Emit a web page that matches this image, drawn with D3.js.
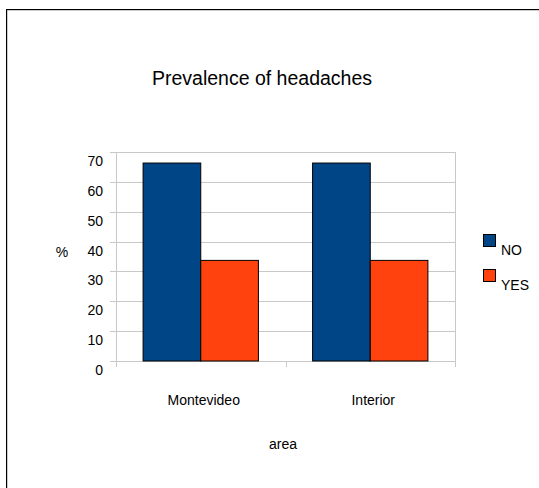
<!DOCTYPE html>
<html><head><meta charset="utf-8">
<script src="https://cdn.jsdelivr.net/npm/d3@7"></script>
<style>body{margin:0;background:#fff;}svg{display:block;font-family:"Liberation Sans",Arial,sans-serif;}</style>
</head><body><svg id="c" width="539" height="488"></svg>
<script>
const categories = ["Montevideo", "Interior"];
const seriesNames = ["NO", "YES"];
const noValues = [66.3, 66.3];
const yesValues = [33.7, 33.7];
const yTicks = [0, 10, 20, 30, 40, 50, 60, 70];
const colors = ["#004586", "#ff420e"];

const svg = d3.select("#c");
// outer frame
svg.append("rect").attr("x", 7).attr("y", 10).attr("width", 600).attr("height", 600)
  .attr("fill", "none").attr("stroke", "#999").attr("stroke-width", 1);
svg.append("rect").attr("x", 6.5).attr("y", 9.5).attr("width", 600).attr("height", 600)
  .attr("fill", "none").attr("stroke", "#000").attr("stroke-width", 1);

const L = 116, R = 455, T = 152, B = 361;
const x = d3.scaleBand().domain(categories).range([L, R]);
const y = d3.scaleLinear().domain([0, 70]).range([B, T]);
const inner = d3.scaleBand().domain(seriesNames).range([0, x.bandwidth()]).paddingOuter(0.47).paddingInner(0);

// gridlines
svg.append("g").selectAll("line").data(yTicks).join("line")
  .attr("x1", L - 6).attr("x2", R).attr("y1", d => Math.round(y(d)) + 0.5).attr("y2", d => Math.round(y(d)) + 0.5)
  .attr("stroke", "#c8c8c8").attr("stroke-width", 1);
// right border of plot
svg.append("line").attr("x1", R + 0.5).attr("x2", R + 0.5).attr("y1", T).attr("y2", B + 6)
  .attr("stroke", "#c8c8c8");
// y axis line
svg.append("line").attr("x1", L + 0.5).attr("x2", L + 0.5).attr("y1", T).attr("y2", B + 6)
  .attr("stroke", "#c8c8c8");
// category tick separators
svg.append("g").selectAll("line").data(categories.slice(1)).join("line")
  .attr("x1", d => Math.round(x(d)) + 0.5).attr("x2", d => Math.round(x(d)) + 0.5)
  .attr("y1", B).attr("y2", B + 6).attr("stroke", "#c8c8c8");

// y tick labels
svg.append("g").selectAll("text").data(yTicks).join("text")
  .attr("x", 103).attr("y", d => y(d) + 14).attr("text-anchor", "end")
  .attr("font-size", 14).attr("fill", "#000").text(d => d);

// bars
const data = categories.map((c, i) => ({c, vals: [noValues[i], yesValues[i]]}));
const g = svg.append("g").selectAll("g").data(data).join("g")
  .attr("transform", d => `translate(${x(d.c)},0)`);
g.selectAll("rect").data(d => d.vals.map((v, j) => ({v, s: seriesNames[j], j}))).join("rect")
  .attr("x", d => inner(d.s)).attr("width", inner.bandwidth())
  .attr("y", d => y(d.v)).attr("height", d => B - y(d.v))
  .attr("fill", d => colors[d.j]).attr("stroke", "#000").attr("stroke-width", 1);

// category labels
svg.append("g").selectAll("text").data(categories).join("text")
  .attr("x", d => x(d) + x.bandwidth() / 2 + 3).attr("y", 405).attr("text-anchor", "middle")
  .attr("font-size", 14).attr("fill", "#000").text(d => d);

// axis titles
svg.append("text").attr("x", 283).attr("y", 449).attr("text-anchor", "middle")
  .attr("font-size", 14).text("area");
svg.append("text").attr("x", 62).attr("y", 257).attr("text-anchor", "middle")
  .attr("font-size", 14).text("%");

// title
svg.append("text").attr("x", 262).attr("y", 85).attr("text-anchor", "middle")
  .attr("font-size", 19.5).text("Prevalence of headaches");

// legend
const lg = svg.append("g").selectAll("g").data(seriesNames).join("g")
  .attr("transform", (d, i) => `translate(483,${234 + i * 35})`);
lg.append("rect").attr("x", 0.5).attr("y", 0.5).attr("width", 12).attr("height", 12)
  .attr("fill", (d, i) => colors[i]).attr("stroke", "#000");
lg.append("text").attr("x", 18).attr("y", 21).attr("font-size", 14).text(d => d);
</script></body></html>
